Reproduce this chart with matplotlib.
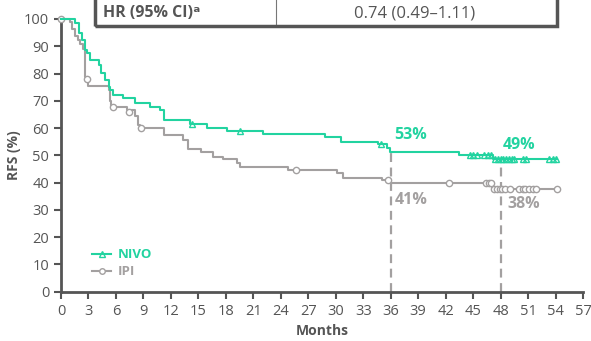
import matplotlib
matplotlib.use("Agg")
import matplotlib.pyplot as plt
from matplotlib.patches import Rectangle
from matplotlib.lines import Line2D

plt.rcParams['font.family'] = ['Open Sans', 'DejaVu Sans']

# ---- data ----
nivo_t = [0, 1.5, 2.0, 2.3, 2.6, 2.8, 3.2, 4.2, 4.4, 4.8, 5.2, 5.3, 5.7, 6.8, 8.1, 9.7,
          10.8, 11.2, 14.1, 15.9, 18.1, 22.1, 28.8, 30.6, 34.6, 35.6, 35.9, 43.5, 47.2, 54.2]
nivo_s = [100, 98.5, 94.8, 92.3, 88.6, 87.4, 85, 83.1, 80.1, 77.6, 75.2, 74, 72.1, 70.9, 69.1, 67.8,
          66.6, 63, 61.5, 60.2, 59.1, 57.8, 56.7, 55, 54, 52.8, 51.3, 50.1, 48.5, 48.5]
nivo_cens_t = [14.3, 19.6, 34.9, 44.7, 45.0, 45.4, 46.2, 46.6, 47.0,
               47.4, 47.7, 48.0, 48.3, 48.6, 48.9, 49.2, 49.5, 50.4, 50.8, 53.3, 53.7, 54.0]
nivo_cens_s = [61.5, 59.1, 54, 50.1, 50.1, 50.1, 50.1, 50.1, 50.1,
               48.5, 48.5, 48.5, 48.5, 48.5, 48.5, 48.5, 48.5, 48.5, 48.5, 48.5, 48.5, 48.5]

ipi_t = [0, 1.0, 1.2, 1.5, 1.9, 2.1, 2.4, 2.6, 3.0, 5.2, 5.3, 5.5, 7.2, 8.1, 8.4, 8.6,
         11.3, 13.3, 13.9, 15.3, 16.6, 17.7, 19.2, 19.5, 24.8, 30.1, 30.8, 35.0, 35.9, 47.1, 54.2]
ipi_s = [100, 99, 96.4, 93.9, 92.4, 90.9, 89, 78.7, 75.6, 74, 70.1, 67.7, 66.5, 64.3, 61, 60,
         57.5, 55.6, 52.2, 51.3, 49.5, 48.5, 47.3, 45.8, 44.6, 43.4, 41.8, 41, 39.7, 37.5, 37.5]
ipi_cens_t = [0, 2.8, 5.7, 7.4, 8.7, 25.7, 35.7, 42.4, 46.4, 46.7, 47.0,
              47.3, 47.6, 47.9, 48.2, 48.5, 49.0, 50.0, 50.4, 50.7, 51.1, 51.5, 51.9, 54.2]
ipi_cens_s = [100, 78, 67.7, 66, 60, 44.6, 41, 39.7, 39.7, 39.7, 39.7,
              37.5, 37.5, 37.5, 37.5, 37.5, 37.5, 37.5, 37.5, 37.5, 37.5, 37.5, 37.5, 37.5]

landmarks = [36, 48]
landmark_top = [51.3, 48.5]
nivo_labels = ["53%", "49%"]
nivo_label_pos = [(36.4, 57.3), (48.2, 53.7)]
ipi_labels = ["41%", "38%"]
ipi_label_pos = [(36.4, 33.8), (48.7, 32.0)]

x_ticks = list(range(0, 58, 3))
y_ticks = list(range(0, 101, 10))

GREEN = '#22D3A0'
GREY = '#A3A0A0'
DARK = '#555555'

fig = plt.figure(figsize=(5.91, 3.41), dpi=100)
ax = fig.add_axes([61/591, (341-291.7)/341, 522/591, (291.7-19)/341])

for x, top in zip(landmarks, landmark_top):
    ax.plot([x, x], [0, top], color=GREY, lw=1.6, ls=(0, (4, 2.5)), zorder=1)

ax.step(ipi_t, ipi_s, where='post', color=GREY, lw=1.5, zorder=2, clip_on=False)
ax.plot(ipi_cens_t, ipi_cens_s, ls='none', marker='o', ms=4.5, mfc='white', mec=GREY,
        mew=1.0, zorder=3, clip_on=False)
ax.step(nivo_t, nivo_s, where='post', color=GREEN, lw=1.5, zorder=4, clip_on=False)
ax.plot(nivo_cens_t, nivo_cens_s, ls='none', marker='^', ms=4.5, mfc='none', mec=GREEN,
        mew=1.0, zorder=5, clip_on=False)

for lab, (x, y) in zip(nivo_labels, nivo_label_pos):
    ax.text(x, y, lab, color=GREEN, fontsize=11.5, fontweight='bold', ha='left', va='center')
for lab, (x, y) in zip(ipi_labels, ipi_label_pos):
    ax.text(x, y, lab, color=GREY, fontsize=11.5, fontweight='bold', ha='left', va='center')

ax.set_xlim(0, 57)
ax.set_ylim(0, 100)
ax.set_xticks(x_ticks)
ax.set_yticks(y_ticks)
for s in ['top', 'right']:
    ax.spines[s].set_visible(False)
for s in ['left', 'bottom']:
    ax.spines[s].set_color(DARK)
    ax.spines[s].set_linewidth(2)
ax.tick_params(axis='both', colors=DARK, labelcolor=DARK, labelsize=10.5, length=5, width=1.5)
ax.set_xlabel('Months', fontsize=10, fontweight='bold', color=DARK, labelpad=4)
ax.set_ylabel('RFS (%)', fontsize=10, fontweight='bold', color=DARK, labelpad=2)

handles = [Line2D([], [], color=GREEN, lw=1.5, marker='^', ms=4, mfc='none', mec=GREEN),
           Line2D([], [], color=GREY, lw=1.5, marker='o', ms=4, mfc='white', mec=GREY)]
leg = ax.legend(handles, ['NIVO', 'IPI'], loc='lower left', bbox_to_anchor=(0.05, 0.03),
                frameon=False, fontsize=9.5, handlelength=1.4, handletextpad=0.5,
                labelspacing=0.3, borderaxespad=0)
for t, c in zip(leg.get_texts(), [GREEN, GREY]):
    t.set_color(c)
    t.set_fontweight('bold')

# header table box
W, H = 591, 341
fig.patches.append(Rectangle((95/W, 1 - 26/H), (557-95)/W, 40/H, transform=fig.transFigure,
                             fill=False, edgecolor=DARK, lw=2.5, zorder=10))
fig.lines.append(Line2D([276/W, 276/W], [1 - 26/H, 1.0], transform=fig.transFigure,
                        color='#777777', lw=0.8, zorder=10))
fig.text(103/W, 1 - 13/H, 'HR (95% CI)ᵃ', fontsize=11.5, fontweight='bold', color=DARK,
         ha='left', va='center')
fig.text(415/W, 1 - 13/H, '0.74 (0.49–1.11)', fontsize=12, color=DARK,
         ha='center', va='center')

fig.savefig('out.png', dpi=100)
